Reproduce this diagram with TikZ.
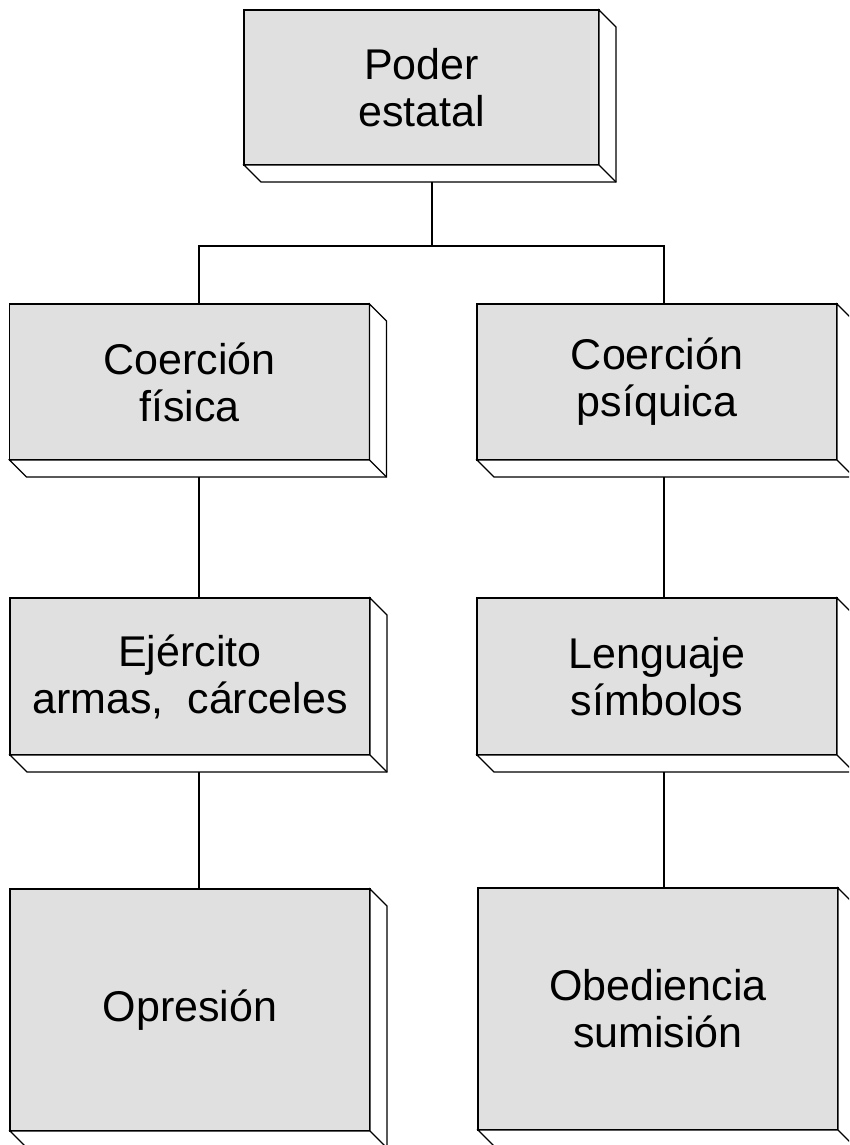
\documentclass[tikz,border=0pt]{standalone}
\usepackage{fontspec}
\setmainfont{Liberation Sans}
\usetikzlibrary{calc}
\begin{document}
\begin{tikzpicture}[x=1pt,y=-1pt,
  box/.style={draw, line width=1.2pt, fill=black!12, minimum width=360pt,
    minimum height=156pt, outer sep=0pt, inner sep=0pt, align=center,
    font=\fontsize{43}{47}\selectfont},
  edge/.style={line width=1.2pt, line join=miter}]
\useasboundingbox (0,0) rectangle (849,1145);
\clip (0,0) rectangle (849,1145);
\node[box, minimum width=355pt, minimum height=155pt] (p) at (421.5,87.5) {Poder\\estatal};
\node[box] (cf) at (189.5,382) {Coerción\\física};
\node[box] (cp) at (657,382) {Coerción\\psíquica};
\node[box, minimum height=157pt] (ej) at (190,676.5) {Ejército\\armas,\ \ cárceles};
\node[box, minimum height=157pt] (le) at (657,676.5) {Lenguaje\\símbolos};
\node[box, minimum height=242pt] (op) at (190,1010) {Opresión};
\node[box, minimum height=242pt] (ob) at (658,1009) {Obediencia\\sumisión};
\foreach \n in {p,cf,cp,ej,le,op,ob}{
  \draw[edge, fill=white] (\n.north east) -- ++(17,17) -- ($(\n.south east)+(17,17)$)
    -- ($(\n.south west)+(17,17)$) -- (\n.south west) -- (\n.south east) -- cycle;
  \draw[edge] (\n.south east) -- ++(17,17);
}
\coordinate (pb) at ($(p.south)+(10.5,17)$);
\coordinate (j) at ($(pb)+(0,64)$);
\coordinate (cft) at ($(cf.north)+(9.5,0)$);
\coordinate (cpt) at ($(cp.north)+(7,0)$);
\coordinate (cfb) at ($(cf.south)+(9.5,17)$);
\coordinate (cpb) at ($(cp.south)+(7,17)$);
\coordinate (ejt) at ($(ej.north)+(9,0)$);
\coordinate (let) at ($(le.north)+(7,0)$);
\coordinate (ejb) at ($(ej.south)+(9,17)$);
\coordinate (leb) at ($(le.south)+(7,17)$);
\coordinate (opt) at ($(op.north)+(9,0)$);
\coordinate (obt) at ($(ob.north)+(6,0)$);
\draw[edge] (pb) -- (j) -| (cft);
\draw[edge] (j) -| (cpt);
\draw[edge] (cfb) -- (ejt);
\draw[edge] (cpb) -- (let);
\draw[edge] (ejb) -- (opt);
\draw[edge] (leb) -- (obt);
\end{tikzpicture}
\end{document}
